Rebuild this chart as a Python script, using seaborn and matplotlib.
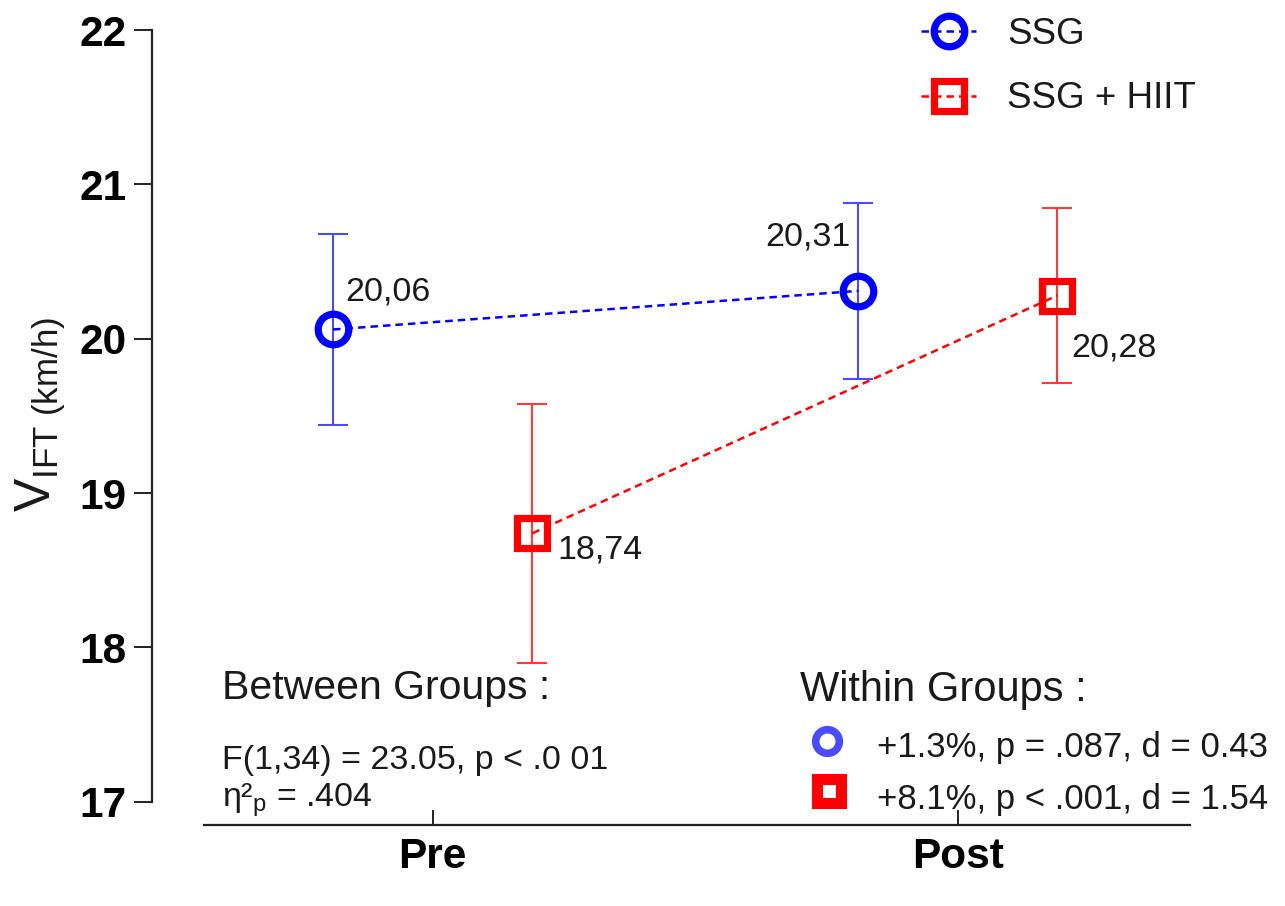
import pandas as pd
import numpy as np
import matplotlib
matplotlib.use("Agg")
import matplotlib.pyplot as plt
from matplotlib.lines import Line2D
import seaborn as sns

# data
times = ["Pre", "Post"]
groups = ["SSG", "SSG + HIIT"]
ssg_mean = [20.06, 20.31]
ssg_sd = [0.62, 0.57]
hiit_mean = [18.74, 20.28]
hiit_sd = [0.84, 0.565]
value_labels_ssg = ["20,06", "20,31"]
value_labels_hiit = ["18,74", "20,28"]
yticks = [17, 18, 19, 20, 21, 22]

BLUE = "#0000ff"
RED = "#ff0000"
BLUE_ERR = "#4a4aff"
RED_ERR = "#ff3a3a"
TXT = "#1a1a1a"

sns.set_style("ticks")
plt.rcParams["font.family"] = ["Liberation Sans", "DejaVu Sans"]
plt.rcParams["mathtext.fontset"] = "custom"
plt.rcParams["mathtext.rm"] = "Liberation Sans"
plt.rcParams["mathtext.it"] = "Liberation Sans:italic"
plt.rcParams["text.color"] = TXT

W, H = 1285, 906
fig = plt.figure(figsize=(W / 100, H / 100), dpi=100)

def px(x, y):
    return x / W, 1 - y / H

ax = fig.add_axes([152 / W, 1 - 825 / H, (1220 - 152) / W, (825 - 22.3) / H])

offset = 0.19
rows = []
for i, t in enumerate(times):
    rows.append({"time": t, "x": i - offset, "group": groups[0], "mean": ssg_mean[i], "sd": ssg_sd[i]})
    rows.append({"time": t, "x": i + offset, "group": groups[1], "mean": hiit_mean[i], "sd": hiit_sd[i]})
df = pd.DataFrame(rows)

palette = {groups[0]: BLUE, groups[1]: RED}
err_col = {groups[0]: BLUE_ERR, groups[1]: RED_ERR}

# error bars
for g in groups:
    sub = df[df["group"] == g]
    ax.errorbar(sub["x"], sub["mean"], yerr=sub["sd"], fmt="none",
                ecolor=err_col[g], elinewidth=1.5, capsize=11, capthick=1.5, zorder=2)

n_before = len(ax.lines)
sns.lineplot(data=df, x="x", y="mean", hue="group", style="group", palette=palette,
             markers={groups[0]: "o", groups[1]: "s"},
             dashes={groups[0]: (3, 2), groups[1]: (3, 2)},
             markersize=22, markeredgewidth=5.2, markerfacecolor="none",
             linewidth=1.8, legend=False, ax=ax, zorder=3)
for ln in ax.lines[n_before:]:
    ln.set_markeredgecolor(ln.get_color())
    ln.set_markerfacecolor("none")

# value labels
ax.annotate(value_labels_ssg[0], (0 - offset, ssg_mean[0]), xytext=(9, 27), textcoords="offset points",
            fontsize=24.5, ha="left", va="center")
ax.annotate(value_labels_ssg[1], (1 - offset, ssg_mean[1]), xytext=(-5, 39), textcoords="offset points",
            fontsize=24.5, ha="right", va="center")
ax.annotate(value_labels_hiit[0], (0 + offset, hiit_mean[0]), xytext=(18, -12), textcoords="offset points",
            fontsize=24.5, ha="left", va="center")
ax.annotate(value_labels_hiit[1], (1 + offset, hiit_mean[1]), xytext=(10, -38), textcoords="offset points",
            fontsize=24.5, ha="left", va="center")

# axes styling
ax.set_xlim(-0.535, 1.5)
ax.set_ylim(16.85, 22.05)
ax.spines["top"].set_visible(False)
ax.spines["right"].set_visible(False)
ax.spines["left"].set_bounds(17, 22)
ax.spines["bottom"].set_bounds(-0.436, 1.442)
for s in ["left", "bottom"]:
    ax.spines[s].set_linewidth(1.6)
    ax.spines[s].set_color("#222222")
ax.set_yticks(yticks)
ax.set_yticklabels([str(v) for v in yticks], fontsize=30.5, fontweight="bold")
ax.set_xticks([0, 1])
ax.set_xticklabels(times, fontsize=30.5, fontweight="bold")
ax.tick_params(axis="y", direction="out", length=13, width=1.4, pad=5, colors="#222222", labelcolor="black")
ax.tick_params(axis="x", direction="in", length=11, width=1.4, pad=9, colors="#222222", labelcolor="black")
ax.set_xlabel("")
ax.set_ylabel("")
fig.text(*px(41, 414), r"V$_{\mathrm{IFT\ (km/h)}}$", fontsize=36, rotation=90,
         ha="center", va="center")

# legend
handles = [
    Line2D([], [], color=BLUE, ls=(0, (3, 2)), lw=1.8, marker="o", ms=22, mew=5.2, mfc="none", mec=BLUE),
    Line2D([], [], color=RED, ls=(0, (3, 2)), lw=1.8, marker="s", ms=22, mew=5.2, mfc="none", mec=RED),
]
fig.legend(handles, groups, loc="upper left", bbox_to_anchor=px(921, 17), frameon=False,
           fontsize=26.5, handlelength=1.5, handletextpad=0.85, labelspacing=0.8, borderpad=0, borderaxespad=0)

# statistics text
fig.text(*px(222, 688), "Between Groups :", fontsize=29.5, ha="left", va="center")
fig.text(*px(222, 761), "F(1,34) = 23.05, p < .0 01", fontsize=24.5, ha="left", va="center")
fig.text(*px(222, 800), r"η²$_{\mathrm{p}}$ = .404", fontsize=24.5, ha="left", va="center")
fig.text(*px(800, 690), "Within Groups :", fontsize=30, ha="left", va="center")
fig.text(*px(877, 747), "+1.3%, p = .087, d = 0.43", fontsize=25, ha="left", va="center")
fig.text(*px(877, 799), "+8.1%, p < .001, d = 1.54", fontsize=25, ha="left", va="center")
fig.lines.append(Line2D([px(827, 0)[0]], [px(0, 741)[1]], transform=fig.transFigure, marker="o",
                        ms=17, mew=5.5, mfc="none", mec=BLUE_ERR, ls="none"))
fig.lines.append(Line2D([px(829, 0)[0]], [px(0, 791)[1]], transform=fig.transFigure, marker="s",
                        ms=17, mew=8, mfc="none", mec=RED, ls="none"))

fig.savefig("out.png", dpi=100, facecolor="white")
